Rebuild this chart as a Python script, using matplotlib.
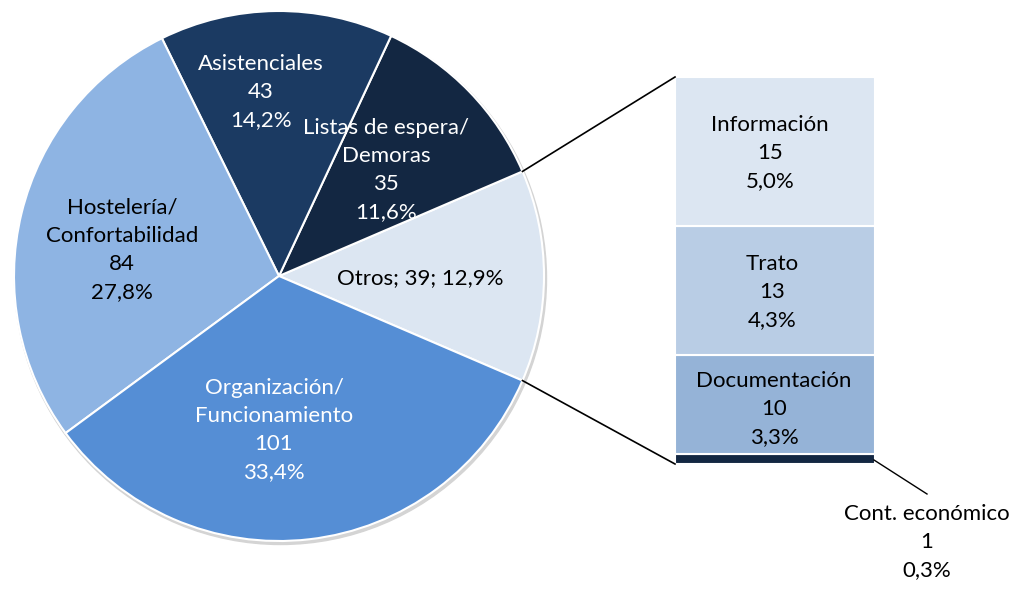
import numpy as np
import matplotlib
matplotlib.use("Agg")
import matplotlib.pyplot as plt

plt.rcParams['font.family'] = ['Lato', 'DejaVu Sans']

# main pie, counter-clockwise starting with "Otros" centred on the right
pie_labels = ["Otros", "Listas de espera/\nDemoras", "Asistenciales",
              "Hostelería/\nConfortabilidad", "Organización/\nFuncionamiento"]
pie_values = [39, 35, 43, 84, 101]
pie_colors = ["#DCE6F2", "#132742", "#1B3A62", "#8EB4E3", "#558ED5"]
pie_text_colors = ["black", "white", "white", "black", "white"]

# bar of "Otros", bottom to top
bar_labels = ["Cont. económico", "Documentación", "Trato", "Información"]
bar_values = [1, 10, 13, 15]
bar_colors = ["#132742", "#95B3D7", "#B9CDE5", "#DCE6F2"]

W, H = 1016, 595
FS, LS = 16, 1.5
fig = plt.figure(figsize=(W / 100, H / 100), dpi=100)

# stacked bar on its own axes (drawn first, underneath)
bx0, bx1, by_top, by_bot = 675, 875, 77, 464
bax = fig.add_axes([bx0 / W, (H - by_bot) / H, (bx1 - bx0) / W, (by_bot - by_top) / H])
bax.set_zorder(1)
bax.set_xlim(-0.5, 0.5)
bax.set_ylim(0, sum(bar_values))
bax.axis("off")
bottoms = np.cumsum([0] + bar_values[:-1])
bax.bar(0, bar_values, bottom=bottoms, width=1, color=bar_colors,
        edgecolor="white", linewidth=1.5, clip_on=False)

ax = fig.add_axes([0, 0, 1, 1])
ax.set_zorder(2)
ax.patch.set_visible(False)
ax.axis("off")

total = sum(pie_values)
cx, cy, r = 279, 319, 265
start = -360 * pie_values[0] / total / 2

# faint shadow
shadow = plt.Circle((cx + 1.5, cy - 2.5), r + 1, color="#d4d4d4", zorder=0)
ax.add_patch(shadow)
wedges, _ = ax.pie(pie_values, colors=pie_colors, startangle=start,
                   center=(cx, cy), radius=r, counterclock=True,
                   wedgeprops=dict(edgecolor="white", linewidth=1.5))
ax.set_xlim(0, W)
ax.set_ylim(0, H)
ax.set_aspect("equal")

def fmt(v):
    return f"{100 * v / total:.1f}%".replace(".", ",")

# label positions in pixel coords (x, y from top)
pie_pos = [(420, 278), (386, 170), (261, 92), (122, 250), (274, 430)]
for lab, v, c, (x, y) in zip(pie_labels, pie_values, pie_text_colors, pie_pos):
    if lab == "Otros":
        s = f"{lab}; {v}; {fmt(v)}"
    else:
        s = f"{lab}\n{v}\n{fmt(v)}"
    ax.text(x, H - y, s, ha="center", va="center", color=c,
            fontsize=FS, linespacing=LS, zorder=5)

bar_pos = [None, (774, 409), (772, 292), (770, 153)]
for lab, v, p in zip(bar_labels, bar_values, bar_pos):
    if p is None:
        continue
    ax.text(p[0], H - p[1], f"{lab}\n{v}\n{fmt(v)}", ha="center", va="center",
            fontsize=FS, linespacing=LS, zorder=5)

# small slice label with leader
ax.plot([874, 927], [H - 460, H - 494], color="black", lw=1)
ax.text(927, H - 542, f"{bar_labels[0]}\n{bar_values[0]}\n{fmt(bar_values[0])}",
        ha="center", va="center", fontsize=FS, linespacing=LS)

# connector lines from the "Otros" wedge edges to the bar corners
w = wedges[0]
for ang, by in [(w.theta2, by_top), (w.theta1, by_bot)]:
    px = cx + r * np.cos(np.radians(ang))
    py = cy + r * np.sin(np.radians(ang))
    ax.plot([px, bx0], [py, H - by], color="black", lw=1.2)

fig.savefig("out.png", dpi=100)
